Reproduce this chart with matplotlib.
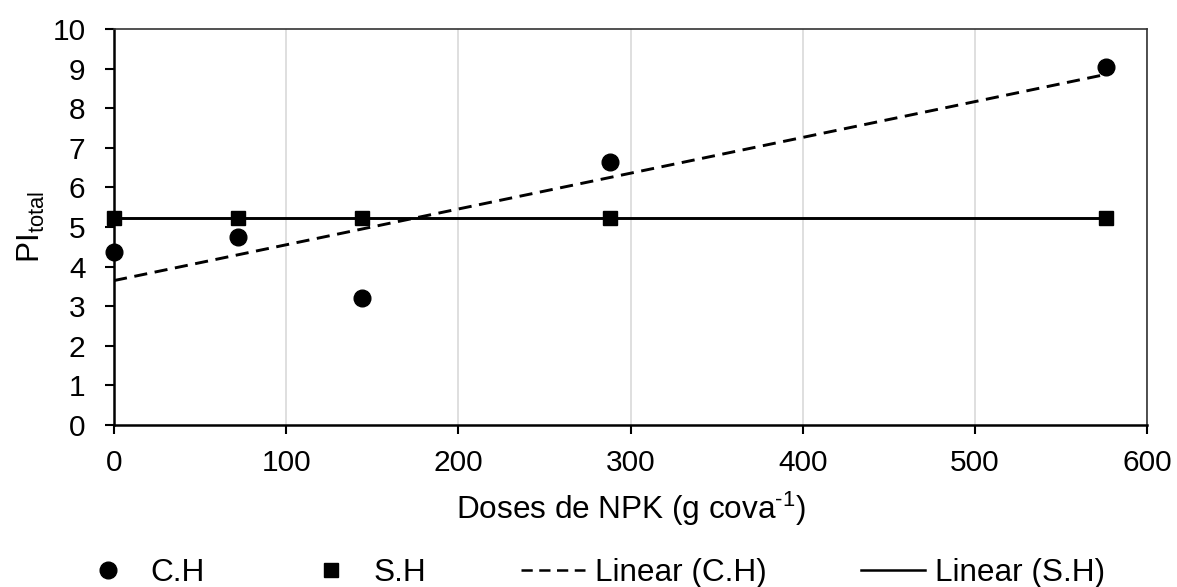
import numpy as np
import matplotlib
matplotlib.use("Agg")
import matplotlib.pyplot as plt
from matplotlib.lines import Line2D

plt.rcParams['font.family'] = ['Liberation Sans', 'DejaVu Sans']
plt.rcParams['mathtext.default'] = 'regular'
plt.rcParams['mathtext.fontset'] = 'custom'
plt.rcParams['mathtext.rm'] = 'Liberation Sans'

doses = [0, 72, 144, 288, 576]
ch_values = [4.37, 4.75, 3.20, 6.64, 9.04]
sh_values = [5.23, 5.23, 5.23, 5.23, 5.23]
x_ticks = [0, 100, 200, 300, 400, 500, 600]
y_ticks = [0, 1, 2, 3, 4, 5, 6, 7, 8, 9, 10]

fig = plt.figure(figsize=(11.77, 5.87), dpi=100)
ax = fig.add_axes([0.0969, 0.276, 0.8776, 0.6745])

x = np.array(doses, dtype=float)
p_ch = np.polyfit(x, ch_values, 1)
p_sh = np.polyfit(x, sh_values, 1)
xf = np.array([min(doses), max(doses)], dtype=float)

dash = (0, (4.5, 2.6))
ax.plot(xf, np.polyval(p_ch, xf), color='black', lw=2.1, ls=dash, zorder=3)
ax.plot(xf, np.polyval(p_sh, xf), color='black', lw=2.1, ls='-', zorder=3)
ax.plot(doses, ch_values, 'o', color='black', ms=12, ls='none', zorder=4, clip_on=False)
ax.plot(doses, sh_values, 's', color='black', ms=10, ls='none', zorder=4, clip_on=False)

ax.set_xlim(0, 600)
ax.set_ylim(0, 10)
ax.set_xticks(x_ticks)
ax.set_yticks(y_ticks)
ax.grid(axis='x', color='#d9d9d9', lw=1.2)
ax.set_axisbelow(True)

for s in ['left', 'bottom']:
    ax.spines[s].set_linewidth(1.8)
    ax.spines[s].set_color('black')
for s in ['top', 'right']:
    ax.spines[s].set_linewidth(1.2)
    ax.spines[s].set_color('#333333')

ax.tick_params(axis='both', labelsize=21.5, width=1.5, length=6.5, direction='out', color='black')
ax.tick_params(axis='x', pad=11)
ax.tick_params(axis='y', pad=14)

ax.set_xlabel(r'Doses de NPK (g cova$^{\text{-1}}$)', fontsize=22.7, labelpad=9)
ax.set_ylabel(r'PI$_{total}$', fontsize=22.7, labelpad=4)

handles = [
    Line2D([], [], marker='o', color='black', ls='none', ms=12),
    Line2D([], [], marker='s', color='black', ls='none', ms=10),
    Line2D([], [], color='black', lw=1.8, ls=dash),
    Line2D([], [], color='black', lw=1.8, ls='-'),
]
labels = ['C.H', 'S.H', 'Linear (C.H)', 'Linear (S.H)']
fig.legend(handles, labels, loc='center', bbox_to_anchor=(0.502, 0.024), ncol=4,
           frameon=False, fontsize=22.7, columnspacing=3.0, handlelength=2.03,
           handletextpad=0.32, borderpad=0, borderaxespad=0)

fig.savefig('out.png', dpi=100)
